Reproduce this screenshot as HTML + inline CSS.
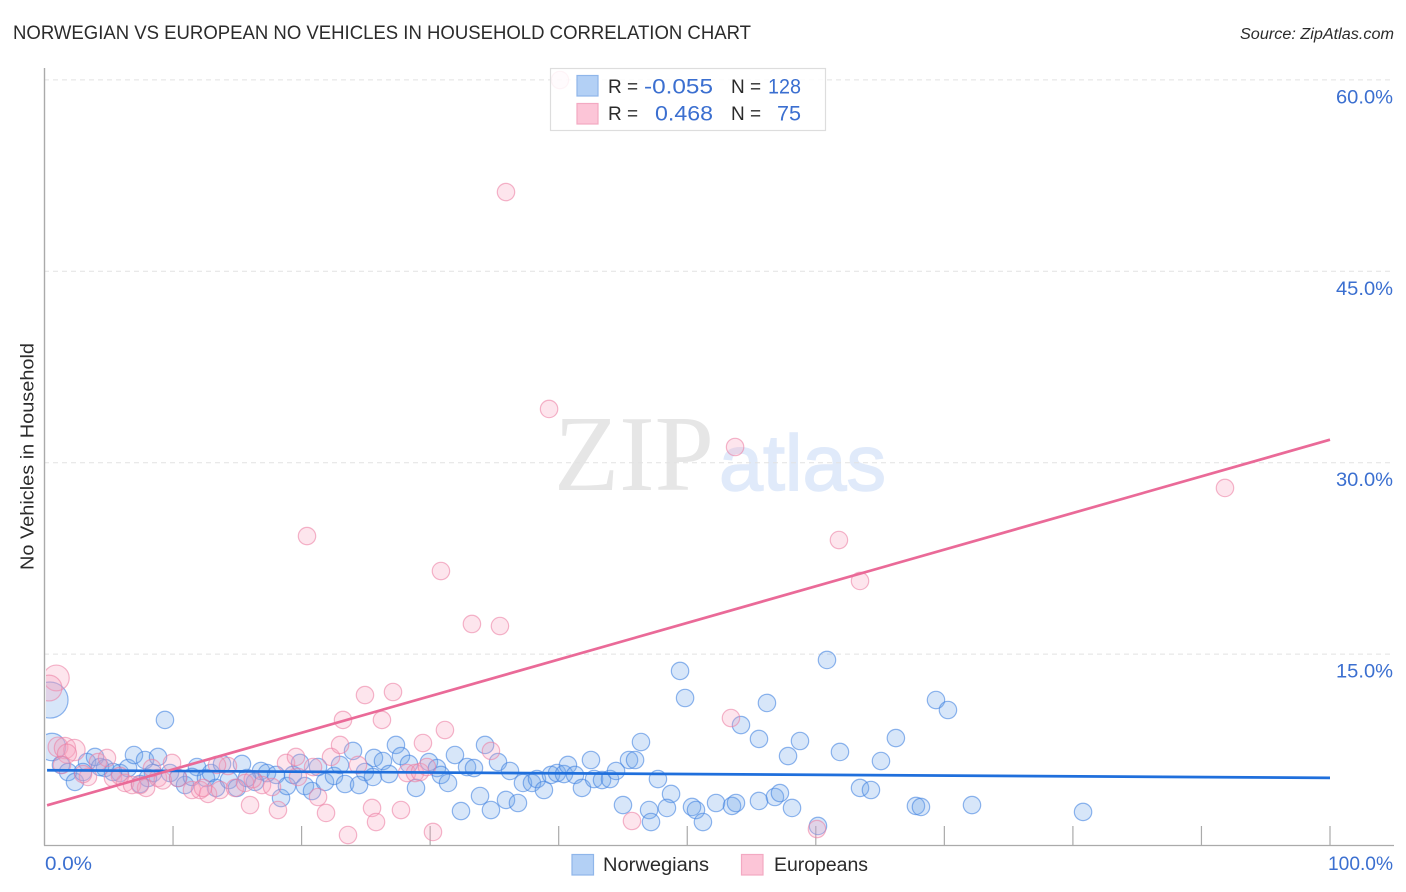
<!DOCTYPE html>
<html lang="en">
<head>
<meta charset="utf-8">
<title>Norwegian vs European No Vehicles in Household Correlation Chart</title>
<style>
html,body{margin:0;padding:0;background:#fff;}
svg{display:block;font-family:"Liberation Sans",sans-serif;}
</style>
</head>
<body>
<svg id="chart" xmlns="http://www.w3.org/2000/svg" width="1406" height="892" viewBox="0 0 1406 892">
  <defs>
    <clipPath id="plot-clip"><rect x="46" y="60" width="1350" height="786"/></clipPath>
  </defs>
  <text x="13" y="39" font-size="19" fill="#2b2b2b" textLength="738" lengthAdjust="spacingAndGlyphs">NORWEGIAN VS EUROPEAN NO VEHICLES IN HOUSEHOLD CORRELATION CHART</text>
  <text x="1394" y="39" font-size="15.5" font-style="italic" fill="#2b2b2b" text-anchor="end" textLength="154" lengthAdjust="spacingAndGlyphs">Source: ZipAtlas.com</text>
  <g>
    <text x="554" y="490" font-family="'Liberation Serif',serif" font-size="108" fill="#e6e6e6" textLength="160" lengthAdjust="spacingAndGlyphs">ZIP</text>
    <text x="719" y="490" font-size="79" fill="#e0eafa" stroke="#e0eafa" stroke-width="1.5" textLength="167" lengthAdjust="spacingAndGlyphs">atlas</text>
  </g>
  <g id="grid"></g>
  <line x1="44.5" y1="68" x2="44.5" y2="845.5" stroke="#aaaaaa" stroke-width="1.4"/>
  <line x1="44" y1="845.5" x2="1394" y2="845.5" stroke="#aaaaaa" stroke-width="1.2"/>
  <g id="xticks"></g>
  <g clip-path="url(#plot-clip)">
    <g id="points-blue"></g>
    <g id="points-pink"></g>
    <g id="trends"></g>
  </g>
  <g id="ylabels"></g>
  <g id="xlabels"></g>
  <text transform="translate(33.5,456.5) rotate(-90)" font-size="18" fill="#2b2b2b" text-anchor="middle" textLength="227" lengthAdjust="spacingAndGlyphs">No Vehicles in Household</text>

  <g>
    <rect x="550.5" y="68.5" width="275" height="62" fill="#ffffff" fill-opacity="0.85" stroke="#dddddd" stroke-width="1.2"/>
    <rect x="577" y="75.5" width="21" height="20.5" fill="#b3d0f5" stroke="#8fb6ea" stroke-width="1.2"/>
    <rect x="577" y="103.5" width="21" height="20.5" fill="#fcc5d7" stroke="#f3a9c2" stroke-width="1.2"/>
    <g font-size="19" fill="#2b2b2b">
      <text x="608" y="93">R =</text>
      <text x="608" y="120">R =</text>
      <text x="731" y="93">N =</text>
      <text x="731" y="120">N =</text>
    </g>
    <g font-size="21" fill="#3b6fd0">
      <text x="644" y="93.5" textLength="69" lengthAdjust="spacingAndGlyphs">-0.055</text>
      <text x="655" y="120.5" textLength="58" lengthAdjust="spacingAndGlyphs">0.468</text>
      <text x="768" y="93.5" textLength="33" lengthAdjust="spacingAndGlyphs">128</text>
      <text x="777" y="120.5" textLength="24" lengthAdjust="spacingAndGlyphs">75</text>
    </g>
  </g>

  <g>
    <g>
      <rect x="572" y="854.5" width="21.5" height="20.5" fill="#b3d0f5" stroke="#8fb6ea" stroke-width="1.2"/>
      <text x="603" y="871" font-size="19" fill="#2b2b2b" textLength="106" lengthAdjust="spacingAndGlyphs">Norwegians</text>
    </g>
    <g>
      <rect x="741.5" y="854.5" width="21.5" height="20.5" fill="#fcc5d7" stroke="#f3a9c2" stroke-width="1.2"/>
      <text x="774" y="871" font-size="19" fill="#2b2b2b" textLength="94" lengthAdjust="spacingAndGlyphs">Europeans</text>
    </g>
  </g>
</svg>
<script>
const xTickValues = [10,20,30,40,50,60,70,80,90,100];
const yTickValues = [15,30,45,60];
const yTickLabels = ["15.0%","30.0%","45.0%","60.0%"];
const xEndLabels = ["0.0%","100.0%"];

const blueTrendX = [0.2,100];
const blueTrendY = [5.9,5.3];
const pinkTrendX = [0.2,100];
const pinkTrendY = [3.15,31.8];

const blueX = [0.43,0.58,9.37,1.28,1.83,2.37,3.31,3.93,2.99,4.71,5.87,6.50,6.96,7.82,8.83,8.44,7.43,9.76,10.39,10.93,11.86,11.47,12.56,12.95,13.34,13.81,14.35,14.97,15.36,16.37,16.84,17.31,18.01,18.40,18.86,19.33,19.88,20.26,20.81,21.28,21.82,22.52,22.99,23.38,24.00,24.93,24.47,25.55,25.63,26.33,26.80,27.34,27.73,28.35,28.90,29.91,30.53,30.84,31.39,31.93,32.40,32.87,33.41,33.88,34.27,34.73,35.28,35.90,36.21,36.83,37.22,37.92,38.31,38.85,39.40,39.87,40.41,40.72,41.27,41.81,42.51,42.75,43.37,43.99,44.46,45.00,45.47,45.94,46.40,47.72,48.74,49.44,49.83,47.03,47.18,48.42,50.37,50.68,51.22,60.87,56.20,54.18,55.58,58.77,57.84,61.88,66.23,65.07,69.35,70.28,63.44,64.29,67.79,68.18,72.15,80.79,52.24,53.48,53.79,55.58,56.82,57.21,58.15,60.17,4.32,5.33,8.05,15.75];
const blueY = [11.40,7.72,9.84,6.31,5.76,4.98,6.54,6.94,5.76,6.07,5.68,6.07,7.09,6.70,6.94,5.68,4.82,5.68,5.29,4.74,6.15,5.37,5.29,5.68,4.51,6.39,5.13,4.51,6.39,4.98,5.84,5.68,5.53,3.72,4.66,5.53,6.47,4.66,4.27,6.15,4.98,5.45,6.31,4.82,7.41,5.76,4.74,5.37,6.86,6.62,5.60,7.88,7.01,6.39,4.51,6.54,6.07,5.53,4.90,7.09,2.70,6.15,6.07,3.88,7.88,2.78,6.54,3.57,5.84,3.33,4.90,4.90,5.21,4.35,5.53,5.68,5.60,6.31,5.53,4.51,6.70,5.21,5.13,5.21,5.84,3.17,6.70,6.70,8.11,5.21,4.04,13.68,11.56,2.78,1.84,2.94,3.02,2.78,1.84,14.54,11.17,9.44,8.35,8.19,7.01,7.33,8.42,6.62,11.40,10.62,4.51,4.35,3.10,3.02,3.17,2.63,3.33,3.10,3.33,3.49,3.80,4.11,2.94,1.53,6.15,5.76,5.29,5.29];
const blueWeights = [4.3,2.5];

const pinkX = [0.92,0.35,1.05,1.59,2.33,1.75,1.36,4.16,4.86,3.38,5.33,6.26,6.81,7.90,7.43,8.36,8.83,9.92,10.39,11.47,12.10,12.72,13.65,12.33,14.82,14.27,13.42,15.60,15.99,16.92,17.70,18.16,18.79,19.56,19.72,20.89,21.28,21.90,22.29,22.99,23.22,23.61,24.93,27.11,26.25,24.39,25.48,25.79,27.73,29.44,31.15,28.20,28.82,29.21,29.75,30.22,34.73,45.70,53.40,60.09,40.10,35.90,39.25,53.72,20.42,30.84,33.25,35.43,61.80,63.44,91.83,5.87,3.00,9.20,16.20];
const pinkY = [13.13,12.34,7.72,7.64,7.48,7.20,6.31,6.54,6.86,5.37,5.29,4.90,4.74,4.51,4.74,6.07,5.29,6.47,5.29,4.35,4.35,4.04,4.35,4.51,4.51,6.23,6.31,4.90,3.17,4.74,4.58,2.78,6.47,6.94,5.37,6.15,3.80,2.55,6.94,7.88,9.84,0.82,11.79,12.03,9.84,6.31,2.94,1.84,2.78,8.03,9.05,5.68,5.68,5.76,6.15,1.06,7.41,1.92,9.99,1.29,59.99,51.21,34.21,31.23,24.25,21.51,17.36,17.20,23.94,20.73,28.02,5.45,5.60,5.10,5.20];
const pinkWeights = [2.2,2.2,1.3,1.5,1.5,1.2];

const NS = "http://www.w3.org/2000/svg";
const xPos = v => 44.5 + v * 12.855;
const yPos = v => 845.5 - v * 12.76;
const BASE_R = 8.7;

function make(tag, attrs) {
  const el = document.createElementNS(NS, tag);
  for (const k in attrs) el.setAttribute(k, attrs[k]);
  return el;
}

const gridG = document.getElementById("grid");
yTickValues.forEach(v => {
  const el = make("line", {x1:44, x2:1394, y1:yPos(v), y2:yPos(v), stroke:"#e2e2e2", "stroke-width":1, "stroke-dasharray":"5 4"});
  
  
  gridG.appendChild(el);
});

const xTickG = document.getElementById("xticks");
xTickValues.forEach(v => {
  const el = make("line", {x1:xPos(v), x2:xPos(v), y1:826, y2:845.5, stroke:"#aaaaaa", "stroke-width":1.2});
  
  
  xTickG.appendChild(el);
});

function drawPoints(groupId, xs, ys, weights, fill, stroke, name) {
  const g = document.getElementById(groupId);
  xs.forEach((x, i) => {
    const w = weights[i] || 1;
    const c = make("circle", {cx:xPos(x), cy:yPos(ys[i]), r:BASE_R * Math.sqrt(w), fill:fill, "fill-opacity":0.28, stroke:stroke, "stroke-opacity":0.58, "stroke-width":1.2});
    
    
    g.appendChild(c);
  });
}
drawPoints("points-blue", blueX, blueY, blueWeights, "#6fa5ea", "#3f82e0", "norwegians-point");
drawPoints("points-pink", pinkX, pinkY, pinkWeights, "#f7a3bd", "#ec7fa3", "europeans-point");

const trendG = document.getElementById("trends");
const blueLine = make("line", {x1:xPos(blueTrendX[0]), y1:yPos(blueTrendY[0]), x2:xPos(blueTrendX[1]), y2:yPos(blueTrendY[1]), stroke:"#1f6fdc", "stroke-width":2.7});


trendG.appendChild(blueLine);
const pinkLine = make("line", {x1:xPos(pinkTrendX[0]), y1:yPos(pinkTrendY[0]), x2:xPos(pinkTrendX[1]), y2:yPos(pinkTrendY[1]), stroke:"#ea6a98", "stroke-width":2.7});


trendG.appendChild(pinkLine);

const yLabelG = document.getElementById("ylabels");
yTickValues.forEach((v, i) => {
  const t = make("text", {x:1336, y:yPos(v) + 23.5, "font-size":19.5, fill:"#3b6fd0", textLength:57, lengthAdjust:"spacingAndGlyphs"});
  
  
  t.textContent = yTickLabels[i];
  yLabelG.appendChild(t);
});

const xLabelG = document.getElementById("xlabels");
xEndLabels.forEach((s, i) => {
  const t = make("text", {x:i === 0 ? 45 : 1328, y:870, "font-size":19.5, fill:"#3b6fd0", textLength:i === 0 ? 47 : 65, lengthAdjust:"spacingAndGlyphs"});
  
  
  t.textContent = s;
  xLabelG.appendChild(t);
});
</script>
</body>
</html>
